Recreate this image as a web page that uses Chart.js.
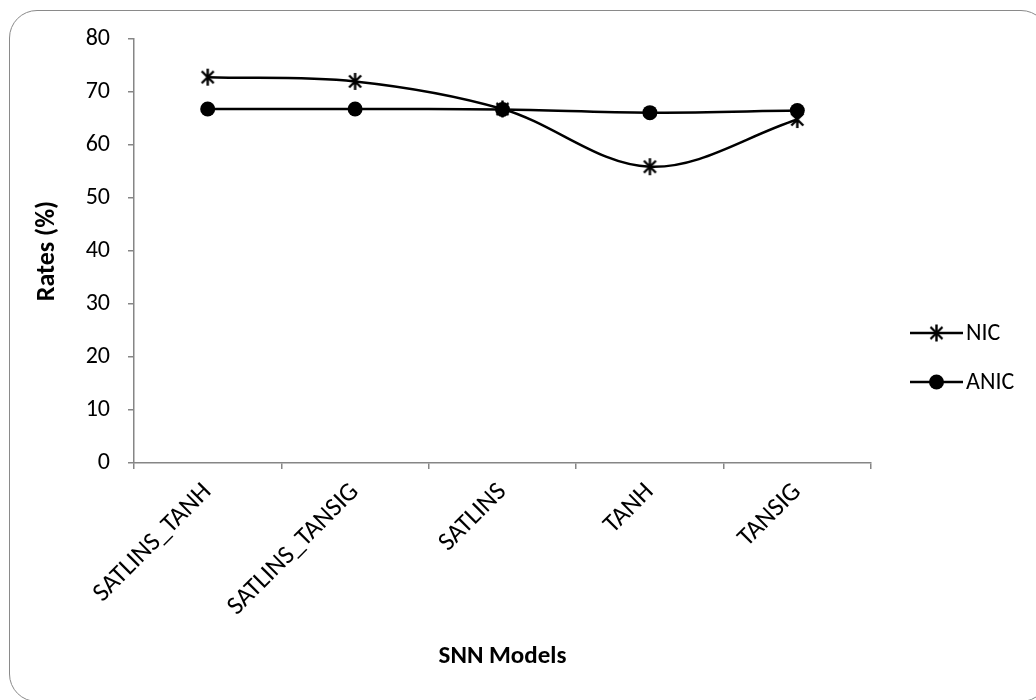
<!DOCTYPE html>
<html>
<head>
<meta charset="utf-8">
<script src="https://cdn.jsdelivr.net/npm/chart.js@4"></script>
<style>
  html, body { margin: 0; padding: 0; background: #ffffff; overflow: hidden; }
  #wrap { position: relative; width: 1036px; height: 700px; overflow: hidden; }
  #frame {
    position: absolute; left: 9px; top: 10px; width: 1040px; height: 692px;
    border: 1.5px solid #8a8a8a; border-radius: 28px; box-sizing: border-box;
  }
  canvas { position: absolute; left: 0; top: 0; }
</style>
</head>
<body>
<div id="wrap">
  <div id="frame"></div>
  <canvas id="chart" width="1036" height="700"></canvas>
</div>
<script>
// Activation-function models on the x axis
const models = ['SATLINS_TANH', 'SATLINS_TANSIG', 'SATLINS', 'TANH', 'TANSIG'];
// Rates (%) per model
const nicRates  = [72.8, 72.0, 66.8, 55.9, 64.8];
const anicRates = [66.8, 66.8, 66.7, 66.1, 66.5];
// Y axis range
const yMin = 0, yMax = 80, yStep = 10;

const FONT = "Carlito, Lato, 'Open Sans', sans-serif";
const TICK_SIZE = 24;
const XTICK_SIZE = 26;
const TITLE_SIZE = 25;

// six-pointed asterisk marker (X with a vertical bar)
function makeStar(size, lw) {
  const c = document.createElement('canvas');
  c.width = size; c.height = size;
  const g = c.getContext('2d');
  const m = size / 2, r = size / 2 - 1;
  const d = r * Math.SQRT1_2;
  g.strokeStyle = '#000'; g.lineWidth = lw; g.lineCap = 'butt';
  g.beginPath();
  g.moveTo(m, m - r); g.lineTo(m, m + r);
  g.moveTo(m - d, m - d); g.lineTo(m + d, m + d);
  g.moveTo(m - d, m + d); g.lineTo(m + d, m - d);
  g.stroke();
  return c;
}
const starMarker = makeStar(19, 2.4);

// legend drawn at the right of the plot, reusing each dataset's style
const sideLegend = {
  id: 'sideLegend',
  afterDraw(chart) {
    const ctx = chart.ctx;
    const x0 = 910, x1 = 963, tx = 966;
    const rows = [333, 382];
    chart.data.datasets.forEach((ds, i) => {
      const y = rows[i];
      ctx.save();
      ctx.strokeStyle = ds.borderColor;
      ctx.lineWidth = ds.borderWidth;
      ctx.beginPath(); ctx.moveTo(x0, y); ctx.lineTo(x1, y); ctx.stroke();
      const cx = (x0 + x1) / 2;
      if (ds.pointStyle === 'circle') {
        ctx.fillStyle = ds.pointBackgroundColor;
        ctx.beginPath(); ctx.arc(cx, y, ds.pointRadius, 0, Math.PI * 2); ctx.fill();
      } else {
        ctx.drawImage(ds.pointStyle, cx - ds.pointStyle.width / 2, y - ds.pointStyle.height / 2);
      }
      ctx.fillStyle = '#000';
      ctx.font = TICK_SIZE + 'px ' + FONT;
      ctx.textBaseline = 'middle';
      ctx.textAlign = 'left';
      ctx.fillText(ds.label, tx, y + 1);
      ctx.restore();
    });
  }
};

new Chart(document.getElementById('chart'), {
  type: 'line',
  data: {
    labels: models,
    datasets: [
      {
        label: 'NIC',
        data: nicRates,
        borderColor: '#000',
        borderWidth: 2.5,
        tension: 0.35,
        pointStyle: starMarker,
        pointRadius: 9,
        pointBackgroundColor: '#000',
        pointBorderColor: '#000',
        fill: false
      },
      {
        label: 'ANIC',
        data: anicRates,
        borderColor: '#000',
        borderWidth: 2.5,
        tension: 0.35,
        pointStyle: 'circle',
        pointRadius: 7.5,
        pointBorderWidth: 0,
        pointBackgroundColor: '#000',
        pointBorderColor: '#000',
        fill: false
      }
    ]
  },
  options: {
    responsive: false,
    animation: false,
    events: [],
    layout: { padding: { left: 20, right: 165, top: 39, bottom: 20 } },
    plugins: {
      legend: { display: false },
      tooltip: { enabled: false }
    },
    scales: {
      x: {
        offset: true,
        grid: {
          offset: true,
          drawOnChartArea: false,
          tickLength: 6,
          color: '#868686',
          lineWidth: 1.5
        },
        border: { color: '#868686', width: 1.5 },
        ticks: {
          color: '#000',
          font: { family: FONT, size: XTICK_SIZE },
          minRotation: 45,
          maxRotation: 45,
          padding: 8
        },
        title: {
          display: true,
          text: 'SNN Models',
          color: '#000',
          font: { family: FONT, size: TITLE_SIZE, weight: 'bold', lineHeight: 1.2 },
          padding: { top: 0, bottom: 8 }
        },
        afterFit(scale) { scale.height = 217; }
      },
      y: {
        min: yMin,
        max: yMax,
        grid: {
          drawOnChartArea: false,
          tickLength: 6,
          color: '#868686',
          lineWidth: 1.5
        },
        border: { color: '#868686', width: 1.5 },
        ticks: {
          stepSize: yStep,
          color: '#000',
          font: { family: FONT, size: TICK_SIZE },
          padding: 18
        },
        title: {
          display: true,
          text: 'Rates (%)',
          color: '#000',
          font: { family: FONT, size: 26, weight: 'bold', lineHeight: 1.2 },
          padding: { top: 12, bottom: 0 }
        },
        afterFit(scale) { scale.width = 114; }
      }
    }
  },
  plugins: [sideLegend]
});
</script>
</body>
</html>
